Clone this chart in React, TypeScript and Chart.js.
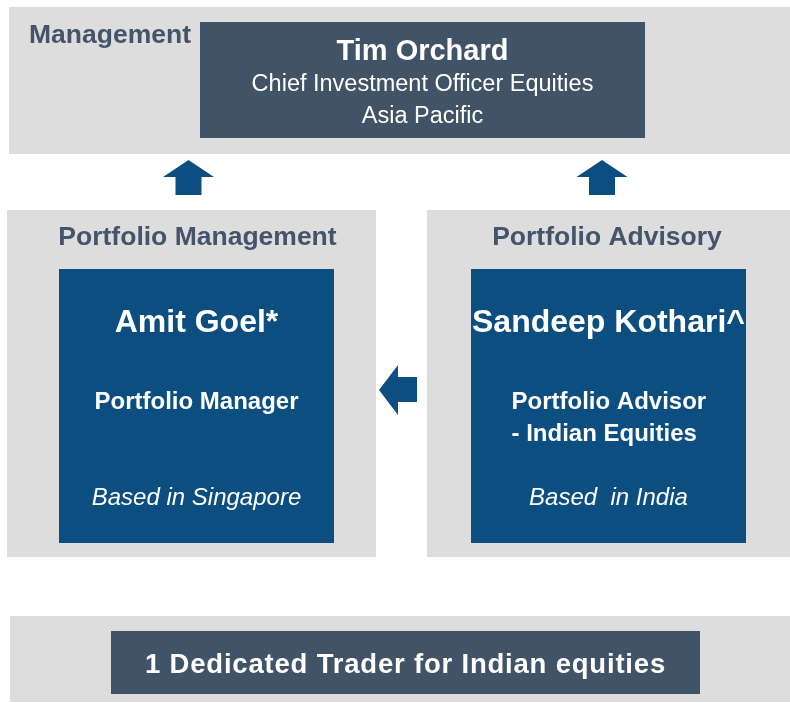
import React, { useEffect, useRef } from "react";
import { Chart, registerables } from "chart.js";

Chart.register(...registerables);

// ---- content ----
const sectionLabels = ["Management", "Portfolio Management", "Portfolio Advisory"];
const headName = "Tim Orchard";
const headTitle = ["Chief Investment Officer Equities", "Asia Pacific"];
const pmNames = ["Amit Goel*", "Sandeep Kothari^"];
const pmRoles = [["Portfolio Manager"], ["Portfolio Advisor", "- Indian Equities"]];
const pmLocations = ["Based in Singapore", "Based  in India"];
const traderLabel = "1 Dedicated Trader for Indian equities";

// ---- styles ----
const GREY = "#dddddd";
const SLATE = "#415366";
const BLUE = "#0d4e80";
const LABEL = "#44546a";
const FONT = "'Liberation Sans', Arial, Helvetica, sans-serif";

type R = [number, number, number, number];
const L = {
  topBand: [9, 7, 790, 154] as R,
  headBox: [200, 22, 645, 138] as R,
  panels: [[7, 210, 376, 557], [427, 210, 790, 557]] as R[],
  inner: [[59, 269, 334, 543], [471, 269, 746, 543]] as R[],
  bottomBand: [10, 616, 790, 702] as R,
  traderBox: [111, 631, 700, 694] as R,
};

const orgPlugin = {
  id: "org",
  afterDraw(chart: any) {
    const ctx: CanvasRenderingContext2D = chart.ctx;
    const xs = chart.scales.x;
    const ys = chart.scales.y;
    const px = (v: number) => xs.getPixelForValue(v);
    const py = (v: number) => ys.getPixelForValue(v);
    const rect = (r: R, c: string) => {
      ctx.fillStyle = c;
      const x0 = px(r[0]), y0 = py(r[1]), x1 = px(r[2]), y1 = py(r[3]);
      ctx.fillRect(x0, y0, x1 - x0, y1 - y0);
    };
    const text = (s: string, x: number, y: number, font: string, color: string, align: CanvasTextAlign = "center", spacing = 0) => {
      ctx.save();
      ctx.font = font;
      ctx.fillStyle = color;
      ctx.textAlign = align;
      ctx.textBaseline = "alphabetic";
      (ctx as any).letterSpacing = spacing + "px";
      ctx.fillText(s, px(x), py(y));
      ctx.restore();
    };
    const poly = (pts: [number, number][], c: string) => {
      ctx.fillStyle = c;
      ctx.beginPath();
      pts.forEach((p, i) => (i ? ctx.lineTo(px(p[0]), py(p[1])) : ctx.moveTo(px(p[0]), py(p[1]))));
      ctx.closePath();
      ctx.fill();
    };
    const upArrow = (cx: number) =>
      poly([[cx, 160], [cx + 25.5, 177], [cx + 13, 177], [cx + 13, 195], [cx - 13, 195], [cx - 13, 177], [cx - 25.5, 177]], BLUE);

    ctx.save();
    // top section
    rect(L.topBand, GREY);
    rect(L.headBox, SLATE);
    text(sectionLabels[0], 29, 43, `bold 26.5px ${FONT}`, LABEL, "left");
    const hc = (L.headBox[0] + L.headBox[2]) / 2;
    text(headName, hc, 60, `bold 29px ${FONT}`, "#ffffff");
    text(headTitle[0], hc, 91, `23.5px ${FONT}`, "#ffffff");
    text(headTitle[1], hc, 123, `23.5px ${FONT}`, "#ffffff");

    upArrow(188.5);
    upArrow(602);

    // middle panels
    L.panels.forEach((p, i) => {
      rect(p, GREY);
      const inr = L.inner[i];
      rect(inr, BLUE);
      const lc = i === 0 ? 197.5 : 607;
      text(sectionLabels[i + 1], lc, 245, `bold 26.5px ${FONT}`, LABEL);
      const c = (inr[0] + inr[2]) / 2;
      text(pmNames[i], c, 332, `bold 32px ${FONT}`, "#ffffff");
      pmRoles[i].forEach((r, j) => {
        const rx = i === 1 ? 511.5 : c;
        text(r, rx, 409 + j * 32, `bold 24px ${FONT}`, "#ffffff", i === 1 ? "left" : "center");
      });
      text(pmLocations[i], c, 505, `italic 24px ${FONT}`, "#ffffff");
    });

    // left arrow
    poly([[379, 390], [398, 365], [398, 377], [417, 377], [417, 402], [398, 402], [398, 415]], BLUE);

    // bottom
    rect(L.bottomBand, GREY);
    rect(L.traderBox, SLATE);
    text(traderLabel, (L.traderBox[0] + L.traderBox[2]) / 2, 673, `bold 27.5px ${FONT}`, "#ffffff", "center", 0.8);
    ctx.restore();
  },
};

export default function App() {
  const ref = useRef<HTMLCanvasElement>(null);
  useEffect(() => {
    if (!ref.current) return;
    const chart = new Chart(ref.current, {
      type: "scatter",
      data: { datasets: [{ data: [], pointRadius: 0 }] },
      options: {
        animation: false,
        responsive: false,
        devicePixelRatio: 1,
        layout: { padding: 0 },
        plugins: { legend: { display: false }, tooltip: { enabled: false } },
        events: [],
        scales: {
          x: { type: "linear", min: 0, max: 790, display: false },
          y: { type: "linear", min: 0, max: 703, reverse: true, display: false },
        },
      },
      plugins: [orgPlugin],
    });
    return () => chart.destroy();
  }, []);
  return (
    <div style={{ position: "fixed", left: 0, top: 0, width: 790, height: 703, background: "#ffffff" }}>
      <canvas ref={ref} width={790} height={703} style={{ display: "block" }} />
    </div>
  );
}
